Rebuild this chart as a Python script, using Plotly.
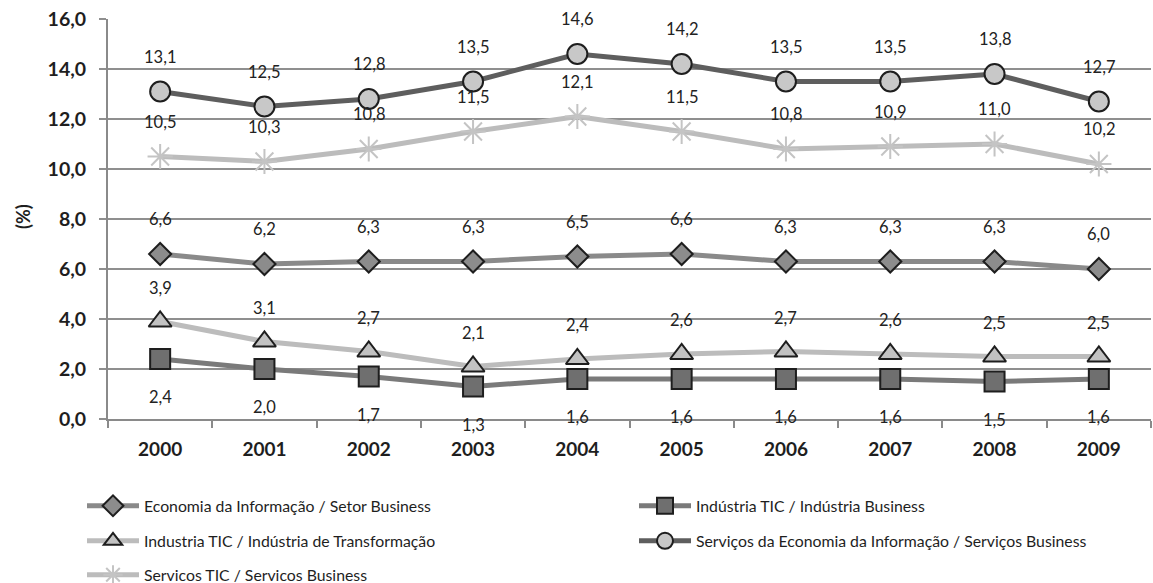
import plotly.graph_objects as go

# Categories (years)
years = ["2000", "2001", "2002", "2003", "2004", "2005", "2006", "2007", "2008", "2009"]

# Series values (%)
economia_info = [6.6, 6.2, 6.3, 6.3, 6.5, 6.6, 6.3, 6.3, 6.3, 6.0]
industria_business = [2.4, 2.0, 1.7, 1.3, 1.6, 1.6, 1.6, 1.6, 1.5, 1.6]
industria_transf = [3.9, 3.1, 2.7, 2.1, 2.4, 2.6, 2.7, 2.6, 2.5, 2.5]
servicos_economia = [13.1, 12.5, 12.8, 13.5, 14.6, 14.2, 13.5, 13.5, 13.8, 12.7]
servicos_tic = [10.5, 10.3, 10.8, 11.5, 12.1, 11.5, 10.8, 10.9, 11.0, 10.2]

# Y-axis ticks
y_ticks = [0, 2, 4, 6, 8, 10, 12, 14, 16]

FONT = "Lato"
DARK = "#1e1e1e"

series = [
    dict(name="Economia da Informação / Setor Business", y=economia_info,
         line="#8a8a8a", symbol="diamond", size=17, fill="#8c8c8c", outline=DARK,
         label_shift=35, legend="legend", lx=82, ly=506),
    dict(name="Indústria TIC / Indústria Business", y=industria_business,
         line="#7a7a7a", symbol="square", size=20, fill="#6f6f6f", outline=DARK,
         label_shift=-38, legend="legend2", lx=634, ly=506),
    dict(name="Industria TIC / Indústria de Transformação", y=industria_transf,
         line="#bcbcbc", symbol="triangle-up", size=20, fill="#c2c2c2", outline=DARK,
         label_shift=34, legend="legend3", lx=82, ly=541),
    dict(name="Serviços da Economia da Informação / Serviços Business", y=servicos_economia,
         line="#5e5e5e", symbol="circle", size=20, fill="#c8c8c8", outline=DARK,
         label_shift=35, legend="legend4", lx=634, ly=541),
    dict(name="Servicos TIC / Servicos Business", y=servicos_tic,
         line="#bcbcbc", symbol="asterisk-open", size=21, fill="#c4c4c4", outline="#c4c4c4",
         label_shift=35, legend="legend5", lx=82, ly=575),
]

W, H = 1153, 583

fig = go.Figure()
annotations = []
for s in series:
    fig.add_trace(go.Scatter(
        x=years, y=s["y"], mode="lines+markers", name=s["name"],
        legend=s["legend"],
        line=dict(color=s["line"], width=5),
        marker=dict(symbol=s["symbol"], size=s["size"], color=s["fill"],
                    line=dict(color=s["outline"], width=2)),
        hoverinfo="skip",
    ))
    # value labels; on a category axis annotations are placed by category index
    for i, yv in enumerate(s["y"]):
        annotations.append(dict(
            x=i, y=yv, xref="x", yref="y",
            text=f"{yv:.1f}".replace(".", ","),
            showarrow=False, yshift=s["label_shift"],
            font=dict(family=FONT, size=16.5, color="#222222"),
        ))

# "(%)" axis title
annotations.append(dict(
    text="(%)", textangle=-90, xref="paper", yref="paper",
    x=-(108 - 23) / 1043, y=0.505, xanchor="center", yanchor="middle",
    showarrow=False, font=dict(family=FONT, size=18, color=DARK, weight=700),
))

legend_layouts = {}
for s in series:
    legend_layouts[s["legend"]] = dict(
        x=s["lx"] / W, y=1 - s["ly"] / H, xref="container", yref="container",
        xanchor="left", yanchor="middle", orientation="h",
        itemwidth=52, bgcolor="rgba(0,0,0,0)",
        font=dict(family=FONT, size=15.8, color=DARK),
    )

fig.update_layout(
    width=W, height=H,
    margin=dict(l=108, r=2, t=19, b=164),
    paper_bgcolor="white", plot_bgcolor="white",
    separators=",.",
    showlegend=True,
    annotations=annotations,
    font=dict(family=FONT, color=DARK),
    xaxis=dict(
        type="category", range=[-0.5, 9.5],
        showgrid=False, showline=True, linecolor="#8a8a8a", linewidth=2,
        ticks="outside", tickson="boundaries", ticklen=7, tickcolor="#8a8a8a", tickwidth=2,
        tickfont=dict(family=FONT, size=19, color=DARK, weight=700),
        ticklabelstandoff=12,
    ),
    yaxis=dict(
        range=[0, 16], tickvals=y_ticks, tickformat=".1f",
        showgrid=True, gridcolor="#8f8f8f", gridwidth=2,
        showline=True, linecolor="#8a8a8a", linewidth=2,
        ticks="outside", ticklen=7, tickcolor="#8f8f8f", tickwidth=2,
        zeroline=False,
        tickfont=dict(family=FONT, size=19.5, color=DARK, weight=700),
        ticklabelstandoff=9,
    ),
    **legend_layouts,
)

fig.write_html("out.html")
